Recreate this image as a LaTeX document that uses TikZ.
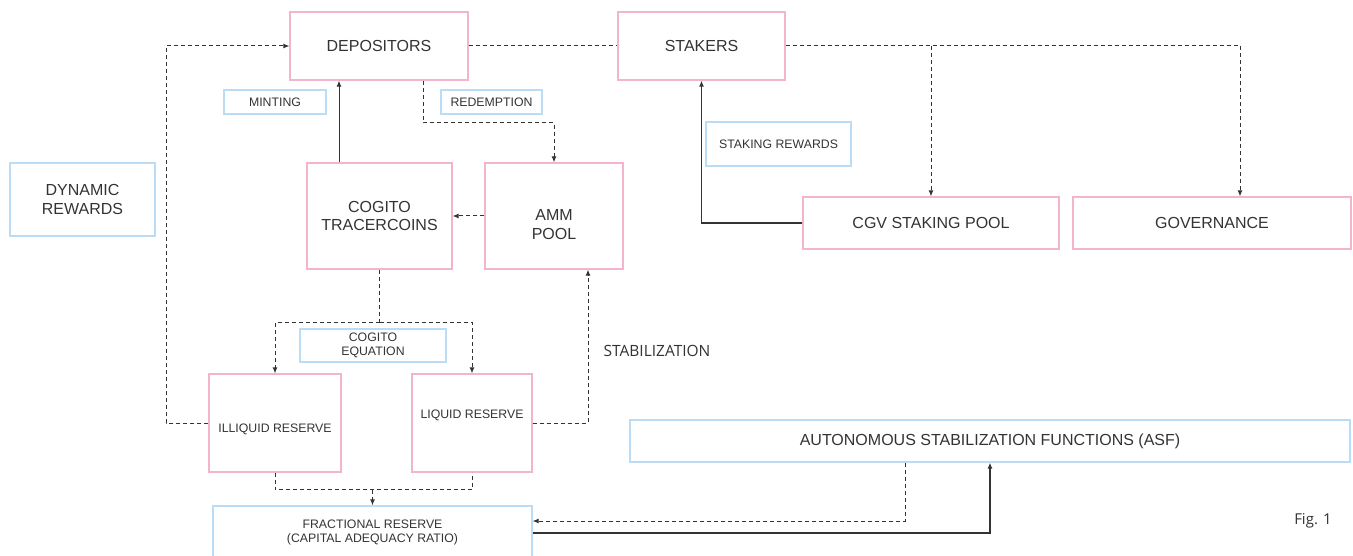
\documentclass[tikz,border=0pt]{standalone}
\usepackage{fontspec}
\setmainfont{Liberation Sans}
\newfontfamily\osans{Open Sans}
\usetikzlibrary{arrows.meta,calc}
\definecolor{pinkb}{HTML}{F4B4CE}
\definecolor{blueb}{HTML}{BADCF5}
\definecolor{txt}{HTML}{333333}
\definecolor{ln}{HTML}{333333}
\begin{document}
\begin{tikzpicture}[x=1pt,y=-1pt,
  box/.style={line width=1.2pt,inner sep=0pt,align=center,text=txt},
  pbox/.style={box,draw=pinkb},
  bbox/.style={box,draw=blueb},
  big/.style={font=\fontsize{16}{18.5}\selectfont},
  small/.style={font=\fontsize{12.3}{14}\selectfont},
  conn/.style={draw=ln,line width=1pt},
  dsh/.style={dash pattern=on 4pt off 3pt},
  tip/.style={-{Latex[length=6pt,width=5pt]}}
]
\useasboundingbox (0,0) rectangle (1353,556);
% nodes
\node[pbox,big,minimum width=178pt,minimum height=68pt] (dep) at (379,46) {DEPOSITORS};
\node[pbox,big,minimum width=167pt,minimum height=68pt] (stk) at (701.5,46) {STAKERS};
\node[bbox,small,minimum width=102pt,minimum height=24pt] (mint) at (275,102) {MINTING};
\node[bbox,small,minimum width=101pt,minimum height=24pt] (redm) at (491.5,102) {REDEMPTION};
\node[bbox,small,minimum width=145pt,minimum height=44pt] (srew) at (778.5,144) {STAKING REWARDS};
\node[bbox,big,minimum width=145pt,minimum height=73pt] (dyn) at (82.5,199.5) {DYNAMIC\\REWARDS};
\node[pbox,big,minimum width=145pt,minimum height=106pt] (cog) at (379.5,216) {COGITO\\TRACERCOINS};
\node[pbox,minimum width=138pt,minimum height=106pt,
  label={[box,big,yshift=-8.5pt]center:{AMM\\POOL}}] (amm) at (554,216) {};
\node[pbox,big,minimum width=256pt,minimum height=52pt] (cgv) at (931,223) {CGV STAKING POOL};
\node[pbox,big,minimum width=278pt,minimum height=52pt] (gov) at (1212,223) {GOVERNANCE};
\node[bbox,small,minimum width=146pt,minimum height=33pt] (ceq) at (373,345.5) {COGITO\\EQUATION};
\node[pbox,minimum width=132pt,minimum height=98pt,
  label={[box,small,yshift=-6.5pt]center:ILLIQUID RESERVE}] (ill) at (275,423) {};
\node[pbox,minimum width=120pt,minimum height=98pt,
  label={[box,small,yshift=8pt]center:LIQUID RESERVE}] (liq) at (472,423) {};
\node[bbox,small,minimum width=319pt,minimum height=52pt] (frac) at (372.5,532) {FRACTIONAL RESERVE\\(CAPITAL ADEQUACY RATIO)};
\node[bbox,big,minimum width=720pt,minimum height=42pt] (asf) at (990,441) {AUTONOMOUS STABILIZATION FUNCTIONS (ASF)};
\node[text=txt,font=\osans\fontsize{15.5}{18}\selectfont] (stab) at (657,351) {STABILIZATION};
\node[text=txt,font=\osans\fontsize{15}{18}\selectfont] (fig) at (1313,521) {Fig. 1};
% connectors
\draw[conn,dsh] (dep.east) -- (stk.west);
\draw[conn,dsh] (stk.east) -- ([xshift=28pt]stk.east -| gov.north);
\draw[conn,dsh,tip] (stk.east -| cgv.north) -- (cgv.north);
\draw[conn,dsh,tip] ([xshift=28pt]stk.east -| gov.north) -- ([xshift=28pt]gov.north);
\draw[conn,line width=1.4pt,tip] (cgv.west) -| (stk.south);
\draw[conn,tip] ([xshift=-40.5pt]cog.north) -- ([xshift=-40pt]dep.south);
\draw[conn,dsh,tip] ([xshift=44pt]dep.south) -- ++(0,42) -| (amm.north);
\draw[conn,dsh,tip] (amm.west) -- (cog.east);
\coordinate (split) at ($(cog.south)+(0,53)$);
\draw[conn,dsh] (cog.south) -- (split);
\draw[conn,dsh,tip] (split) -| (ill.north);
\draw[conn,dsh,tip] (split) -| (liq.north);
\draw[conn,dsh,tip] (ill.west) -- ++(-42,0) |- (dep.west);
\draw[conn,dsh,tip] (liq.east) -| ([xshift=34pt]amm.south);
\coordinate (join) at ($(ill.south)+(0,17)$);
\draw[conn,dsh] (ill.south) -- (join) -| (liq.south);
\draw[conn,dsh,tip] (join -| frac.north) -- (frac.north);
\draw[conn,dsh,tip] ([xshift=-85pt]asf.south) |- ([yshift=11pt]frac.east);
\draw[conn,line width=1.8pt,tip] ([yshift=-1pt]frac.east) -| (asf.south);
\end{tikzpicture}
\end{document}
